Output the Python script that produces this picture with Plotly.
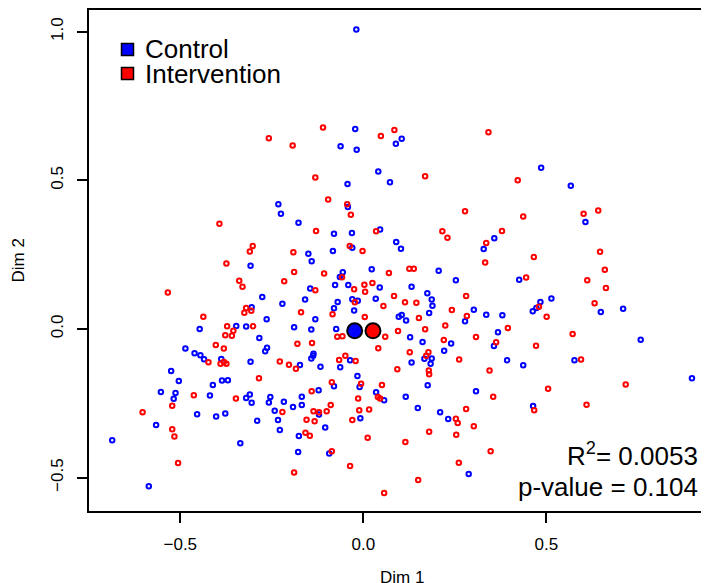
import plotly.graph_objects as go

# Control group (Dim 1, Dim 2)
control_x = [-0.232, -0.019, -0.022, 0.105, 0.089, -0.062, -0.018, 0.041, 0.073, -0.043,
             -0.042, 0.486, 0.567, -0.225, -0.177, -0.308, -0.276, -0.221, -0.305, -0.264,
             -0.347, -0.320, -0.447, -0.189, -0.284, -0.486, -0.263, -0.268, -0.461, -0.445,
             -0.435, -0.388, -0.308, -0.525, -0.504, -0.386, -0.370, -0.411, -0.553, -0.513,
             -0.419, -0.518, -0.310, -0.320, -0.305, -0.254, -0.258, -0.217, -0.080, -0.031,
             0.046, 0.358, 0.329, 0.090, 0.103, -0.030, -0.083, -0.150, -0.141, -0.056,
             -0.064, 0.023, 0.206, 0.253, -0.077, -0.041, -0.145, 0.045, 0.132, 0.175,
             -0.159, -0.070, -0.030, -0.015, 0.034, 0.187, 0.189, -0.080, -0.025, 0.180,
             0.302, 0.336, 0.380, 0.278, 0.097, 0.105, 0.117, -0.131, -0.142, -0.074,
             0.368, 0.357, 0.128, 0.162, 0.240, 0.221, -0.136, -0.137, -0.142, -0.036,
             0.167, 0.187, 0.184, 0.132, -0.173, -0.117, -0.063, -0.016, -0.080, -0.010,
             0.176, -0.122, -0.168, 0.035, 0.057, 0.116, 0.308, 0.607, 0.426, 0.514,
             0.484, 0.473, 0.463, 0.649, 0.710, 0.758, 0.393, 0.437, 0.577, 0.898,
             -0.566, -0.686, -0.586, -0.454, -0.402, -0.377, -0.290, -0.336, -0.242, -0.233,
             -0.228, -0.192, -0.168, -0.121, -0.008, 0.149, 0.210, 0.232, -0.104, -0.176,
             -0.178, -0.093, 0.288, 0.464]
control_y = [0.420, 1.007, 0.673, 0.640, 0.623, 0.615, 0.603, 0.530, 0.494, 0.488,
             0.410, 0.542, 0.482, 0.388, 0.357, 0.213, 0.108, 0.085, 0.073, 0.033,
             0.010, 0.008, 0.000, 0.006, -0.030, -0.066, -0.063, -0.075, -0.082, -0.088,
             -0.102, -0.101, -0.110, -0.141, -0.175, -0.173, -0.172, -0.188, -0.212, -0.215,
             -0.224, -0.235, -0.220, -0.232, -0.248, -0.229, -0.247, -0.245, 0.320, 0.323,
             0.335, 0.305, 0.269, 0.293, 0.270, 0.273, 0.262, 0.253, 0.228, 0.191,
             0.175, 0.201, 0.196, 0.164, 0.148, 0.148, 0.136, 0.140, 0.142, 0.120,
             0.099, 0.091, 0.100, 0.095, 0.102, 0.099, 0.078, 0.070, 0.062, 0.054,
             0.065, 0.048, 0.046, 0.026, 0.041, 0.047, 0.029, 0.033, -0.002, 0.000,
             -0.011, -0.057, -0.028, -0.044, -0.049, -0.073, -0.083, -0.090, -0.099, -0.105,
             -0.100, -0.099, -0.117, -0.113, -0.121, -0.127, -0.129, -0.158, -0.193, -0.195,
             -0.189, -0.206, -0.228, -0.213, -0.240, -0.228, -0.209, 0.360, 0.166, 0.103,
             0.091, 0.071, 0.060, 0.057, 0.068, -0.036, -0.105, -0.122, -0.105, -0.166,
             -0.323, -0.374, -0.529, -0.287, -0.294, -0.284, -0.309, -0.384, -0.275, -0.306,
             -0.340, -0.262, -0.256, -0.288, -0.300, -0.266, -0.280, -0.303, -0.331, -0.360,
             -0.414, -0.419, -0.488, -0.259]

# Intervention group (Dim 1, Dim 2)
interv_x = [-0.258, -0.193, -0.110, 0.085, 0.048, 0.342, -0.131, 0.169, -0.096, -0.044,
            0.422, -0.393, -0.302, -0.310, -0.191, -0.374, -0.189, -0.339, -0.216, -0.330,
            -0.534, -0.320, -0.306, -0.325, -0.437, -0.372, -0.301, -0.355, -0.377, -0.359,
            -0.180, -0.403, -0.381, -0.423, -0.390, -0.381, -0.374, -0.228, -0.203, -0.184,
            -0.285, -0.463, -0.348, -0.034, 0.278, -0.129, 0.035, 0.216, 0.230, 0.379,
            0.336, 0.333, -0.037, -0.002, -0.107, -0.058, 0.070, 0.126, 0.138, 0.003,
            0.025, -0.131, -0.025, 0.005, 0.281, 0.084, -0.023, 0.114, 0.145, 0.055,
            -0.170, -0.084, 0.004, 0.242, 0.283, 0.152, -0.071, -0.057, 0.060, 0.095,
            0.169, 0.224, 0.308, 0.363, 0.220, -0.140, 0.041, -0.049, -0.066, -0.021,
            0.127, 0.178, 0.172, 0.262, 0.093, 0.179, 0.180, 0.345, -0.086, -0.006,
            0.051, -0.141, 0.040, 0.046, -0.014, 0.355, -0.136, -0.121, -0.100, -0.089,
            -0.011, 0.016, -0.030, 0.253, 0.258, 0.281, 0.302, -0.155, -0.133, -0.158,
            -0.146, 0.180, 0.254, 0.012, 0.115, -0.086, 0.348, -0.189, -0.036, 0.261,
            0.150, 0.057, 0.437, 0.602, 0.642, 0.466, 0.647, 0.660, 0.612, 0.663,
            0.445, 0.480, 0.501, 0.632, 0.395, 0.572, 0.472, 0.595, 0.717, 0.505,
            -0.603, -0.522, -0.522, -0.516, -0.506, -0.221, 0.467, 0.610]
interv_y = [0.642, 0.617, 0.678, 0.669, 0.649, 0.662, 0.510, 0.514, 0.436, 0.420,
            0.500, 0.354, 0.279, 0.261, 0.258, 0.220, 0.192, 0.162, 0.161, 0.142,
            0.123, 0.071, 0.061, 0.055, 0.041, 0.009, 0.009, -0.006, -0.021, -0.023,
            -0.050, -0.054, -0.066, -0.112, -0.117, -0.111, -0.117, -0.109, -0.120, -0.134,
            -0.166, -0.223, -0.234, 0.384, 0.396, 0.330, 0.329, 0.329, 0.307, 0.330,
            0.289, 0.224, 0.279, 0.262, 0.187, 0.174, 0.188, 0.203, 0.203, 0.149,
            0.155, 0.130, 0.134, 0.125, 0.111, 0.111, 0.090, 0.090, 0.088, 0.077,
            0.056, 0.050, 0.040, 0.064, 0.044, 0.037, -0.026, -0.024, -0.026, -0.007,
            -0.001, 0.012, -0.027, -0.045, -0.037, -0.047, -0.065, -0.090, -0.104, -0.108,
            -0.078, -0.078, -0.090, -0.103, -0.135, -0.140, -0.152, -0.140, -0.179, -0.184,
            -0.188, -0.209, -0.229, -0.234, -0.234, -0.228, -0.277, -0.280, -0.277, -0.256,
            -0.273, -0.271, -0.306, -0.302, -0.316, -0.269, -0.327, -0.305, -0.310, -0.349,
            -0.359, -0.346, -0.356, -0.366, -0.380, -0.411, -0.411, -0.483, -0.461, -0.450,
            -0.508, -0.552, 0.378, 0.388, 0.399, 0.242, 0.260, 0.199, 0.164, 0.138,
            0.173, 0.075, 0.041, 0.087, 0.003, -0.017, -0.056, -0.103, -0.187, -0.201,
            -0.280, -0.258, -0.337, -0.362, -0.451, -0.279, -0.273, -0.255]

# Group centroids
groups = ["Control", "Intervention"]
centroid_x = [-0.0235, 0.0265]
centroid_y = [-0.006, -0.006]
group_colors = ["#0000FF", "#FF0000"]

r2_value = "0.0053"
p_value = "0.104"

FONT = "Liberation Sans, Arial, Helvetica, sans-serif"

fig = go.Figure()
fig.add_trace(go.Scatter(x=control_x, y=control_y, mode="markers", name="Control",
                         marker=dict(symbol="circle-open", size=4.5, color=group_colors[0],
                                     line=dict(width=2, color=group_colors[0])),
                         showlegend=False, hoverinfo="skip"))
fig.add_trace(go.Scatter(x=interv_x, y=interv_y, mode="markers", name="Intervention",
                         marker=dict(symbol="circle-open", size=4.5, color=group_colors[1],
                                     line=dict(width=2, color=group_colors[1])),
                         showlegend=False, hoverinfo="skip"))
fig.add_trace(go.Scatter(x=centroid_x, y=centroid_y, mode="markers",
                         marker=dict(symbol="circle", size=15, color=group_colors,
                                     line=dict(width=2, color="black")),
                         showlegend=False, hoverinfo="skip"))

# plot area in pixels: l=81, r=3, t=2, b=80 -> x 81..706, y 2..503
W, H = 709, 583
L, R, T, B = 81, 3, 2, 80
pw, ph = W - L - R, H - T - B


def px(xp):
    return (xp - L) / pw


def py(yp):
    return (H - B - yp) / ph


shapes = []
annotations = []
# legend
leg_rows = [41.5, 65.5]
for g, c, yc in zip(groups, group_colors, leg_rows):
    shapes.append(dict(type="rect", xref="paper", yref="paper",
                       x0=px(113.5), x1=px(125.5), y0=py(yc + 6), y1=py(yc - 6),
                       fillcolor=c, line=dict(color="black", width=1.5)))
    annotations.append(dict(text=g, xref="paper", yref="paper", x=px(135), y=py(yc),
                            xanchor="left", yanchor="middle", showarrow=False,
                            font=dict(size=26, color="black", family=FONT)))

annotations.append(dict(text="R<sup>2</sup>= " + r2_value, xref="paper", yref="paper",
                        x=px(692), y=py(446), xanchor="right", yanchor="middle",
                        showarrow=False, font=dict(size=26, color="black", family=FONT)))
annotations.append(dict(text="p-value = " + p_value, xref="paper", yref="paper",
                        x=px(692), y=py(479), xanchor="right", yanchor="middle",
                        showarrow=False, font=dict(size=26, color="black", family=FONT)))
# axis titles
annotations.append(dict(text="Dim 1", xref="paper", yref="paper", x=0.5, y=py(569),
                        xanchor="center", yanchor="middle", showarrow=False,
                        font=dict(size=17, color="black", family=FONT)))
annotations.append(dict(text="Dim 2", xref="paper", yref="paper", x=px(10), y=0.5,
                        xanchor="center", yanchor="middle", textangle=-90, showarrow=False,
                        font=dict(size=17, color="black", family=FONT)))

fig.update_layout(
    width=W, height=H,
    margin=dict(l=L, r=R, t=T, b=B, pad=0),
    paper_bgcolor="white", plot_bgcolor="white",
    font=dict(family=FONT, size=17, color="black"),
    shapes=shapes, annotations=annotations,
    showlegend=False,
)
fig.update_xaxes(range=[-0.7494, 0.9583], tickvals=[-0.5, 0.0, 0.5], tickformat=".1f",
                 showgrid=False, zeroline=False, showline=True, linecolor="black", linewidth=2,
                 mirror=True, ticks="outside", ticklen=10, tickwidth=1.5, tickcolor="black",
                 ticklabelstandoff=7,
                 tickfont=dict(size=17, family=FONT, color="black"), automargin=False)
fig.update_yaxes(range=[-0.6122, 1.0730], tickvals=[-0.5, 0.0, 0.5, 1.0], tickformat=".1f",
                 showgrid=False, zeroline=False, showline=True, linecolor="black", linewidth=2,
                 mirror=True, ticks="outside", ticklen=10, tickwidth=1.5, tickcolor="black",
                 tickangle=-90, ticklabelstandoff=7,
                 tickfont=dict(size=17, family=FONT, color="black"), automargin=False)

fig.write_html("out.html")
